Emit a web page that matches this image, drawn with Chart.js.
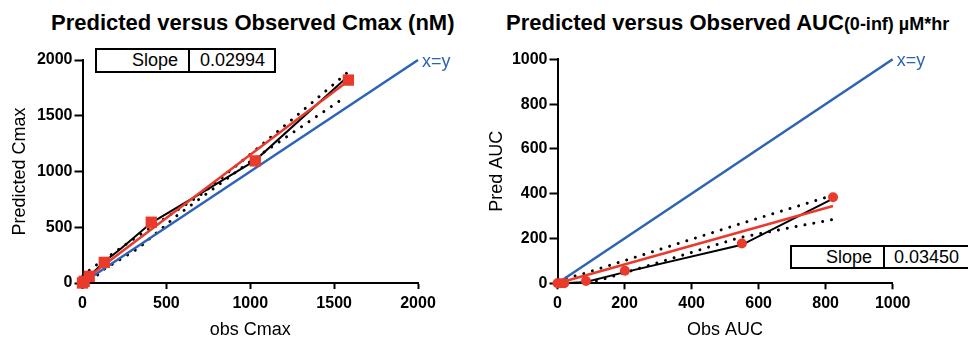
<!DOCTYPE html>
<html><head><meta charset="utf-8">
<script src="https://cdn.jsdelivr.net/npm/chart.js@4.4.1/dist/chart.umd.min.js"></script>
<style>
html,body{margin:0;padding:0;background:#fff;}
body{width:968px;height:339px;position:relative;overflow:hidden;font-family:"Liberation Sans",Arial,sans-serif;color:#000;}
.title{position:absolute;top:10px;font-weight:bold;font-size:22px;white-space:nowrap;line-height:26px;}
.title small{font-size:18px;}
canvas{position:absolute;top:0;}
.sbox{position:absolute;box-sizing:border-box;border:2px solid #000;display:flex;font-size:18px;background:#fff;}
.sbox div{box-sizing:border-box;height:100%;display:flex;align-items:center;}
.sbox .c1{border-right:2px solid #000;justify-content:flex-end;}
.sbox .c2{justify-content:flex-start;}
</style></head>
<body>
<div class="title" style="left:51px">Predicted versus Observed Cmax (nM)</div>
<div class="title" style="left:506px">Predicted versus Observed AUC<small>(0-inf) µM*hr</small></div>
<canvas id="c1" width="484" height="339" style="left:0"></canvas>
<canvas id="c2" width="484" height="339" style="left:484px"></canvas>
<div class="sbox" style="left:95px;top:48px;width:181px;height:25px">
  <div class="c1" style="width:93px;padding-right:10px">Slope</div><div class="c2" style="padding-left:10px">0.02994</div>
</div>
<div class="sbox" style="left:790px;top:245px;width:180px;height:24px">
  <div class="c1" style="width:93px;padding-right:11px">Slope</div><div class="c2" style="padding-left:9px">0.03450</div>
</div>
<script>
// ---- Left panel: Cmax (nM) ----
const cmaxObs   = [0, 10, 40, 130, 410, 1030, 1585];
const cmaxPred  = [0, 15, 60, 185, 545, 1095, 1820];
const cmaxLineX = [0, 10, 40, 130, 230, 410, 700, 1030, 1580];
const cmaxLineY = [0, 15, 60, 190, 310, 540, 800, 1100, 1850];
const cmaxFitX  = [0, 1585];
const cmaxFitY  = [15, 1815];
const cmaxUpX   = [0, 49, 300, 718, 1000, 1300, 1575];
const cmaxUpY   = [60, 126, 390, 805, 1155, 1530, 1882];
const cmaxLoX   = [50, 123, 335, 559, 1000, 1542];
const cmaxLoY   = [20, 117, 314, 600, 1090, 1643];
const cmaxIdent = [0, 2000];

// ---- Right panel: AUC(0-inf) µM*hr ----
const aucObs   = [0, 10, 20, 85, 201, 550, 822];
const aucPred  = [0, 0, 0, 10, 56, 178, 384];
const aucLineX = [0, 20, 85, 201, 550, 822];
const aucLineY = [0, 0, 6, 50, 172, 378];
const aucFitX  = [0, 822];
const aucFitY  = [0, 345];
const aucUpX   = [0, 65, 550, 822];
const aucUpY   = [15, 37, 268, 393];
const aucLoX   = [90, 145, 350, 543, 700, 822];
const aucLoY   = [0, 22, 115, 204, 250, 285];
const aucIdent = [0, 1000];

const identLabel = 'x=y';
const BLUE = '#2c63b7', RED = '#e93a2b', FONT = '"Liberation Sans", Arial, sans-serif';

const pts = (xs, ys) => xs.map((x, i) => ({x, y: ys[i]}));

const xyLabel = {
  id: 'xyLabel',
  afterDatasetsDraw(chart, args, opts) {
    const {ctx, scales: {x, y}} = chart;
    const px = x.getPixelForValue(opts.v), py = y.getPixelForValue(opts.v);
    ctx.save();
    ctx.font = '18px ' + FONT;
    ctx.fillStyle = BLUE;
    ctx.textBaseline = 'middle';
    ctx.fillText(identLabel, px + 4, py + 2);
    ctx.restore();
  }
};

function lineDs(data, color, width, dash) {
  return {data, showLine: true, pointRadius: 0, borderColor: color, borderWidth: width,
          borderDash: dash || [], borderCapStyle: dash ? 'round' : 'butt', fill: false, clip: false, tension: 0};
}

function makeChart(id, cfg) {
  const tickFont = {family: FONT, size: 16, weight: 'bold'};
  const axisCommon = (min, max, step, title, isY) => ({
    type: 'linear', min, max,
    ticks: {stepSize: step, font: tickFont, color: '#000', padding: isY ? 2 : 5, callback: v => String(v)},
    grid: {display: true, drawOnChartArea: false, drawTicks: true, tickLength: isY ? 8 : 6, tickWidth: 2, tickColor: '#000'},
    border: {display: true, color: '#000', width: 2},
    title: {display: true, text: title, color: '#000', font: {family: FONT, size: 18, lineHeight: 1},
            padding: isY ? {top: cfg.yTitlePad, bottom: 0} : {top: 0, bottom: 0}},
  });
  const xs = axisCommon(0, cfg.max, cfg.step, cfg.xTitle, false);
  xs.afterFit = s => { s.height = cfg.xH; };
  const ys = axisCommon(0, cfg.max, cfg.step, cfg.yTitle, true);
  ys.afterFit = s => { s.width = cfg.yW; };
  return new Chart(document.getElementById(id), {
    type: 'scatter',
    data: {datasets: [
      {data: cfg.points, pointStyle: cfg.pointStyle, pointRadius: cfg.pointRadius, pointBackgroundColor: RED,
       pointBorderColor: RED, pointBorderWidth: 0, showLine: false, clip: false},
      lineDs(cfg.fit, RED, 2.5),
      lineDs(cfg.line, '#000', 2),
      lineDs(cfg.ident, BLUE, 2.5),
      lineDs(cfg.up, '#000', 3, [0.01, 9]),
      lineDs(cfg.lo, '#000', 3, [0.01, 9]),
    ]},
    options: {
      responsive: false, animation: false, devicePixelRatio: 1,
      layout: {padding: {left: 0, right: cfg.padR, top: cfg.padT, bottom: 0}},
      plugins: {legend: {display: false}, tooltip: {enabled: false}, xyLabel: {v: cfg.max}},
      scales: {x: xs, y: ys}
    },
    plugins: [xyLabel]
  });
}

makeChart('c1', {
  max: 2000, step: 500, xTitle: 'obs Cmax', yTitle: 'Predicted Cmax',
  xH: 56, yW: 82.5, padR: 66, padT: 60, yTitlePad: 11,
  points: pts(cmaxObs, cmaxPred), pointStyle: 'rect', pointRadius: 8,
  fit: pts(cmaxFitX, cmaxFitY), line: pts(cmaxLineX, cmaxLineY),
  ident: pts(cmaxIdent, cmaxIdent), up: pts(cmaxUpX, cmaxUpY), lo: pts(cmaxLoX, cmaxLoY)
});
makeChart('c2', {
  max: 1000, step: 200, xTitle: 'Obs AUC', yTitle: 'Pred AUC',
  xH: 55.7, yW: 73.5, padR: 75.3, padT: 59.3, yTitlePad: 4,
  points: pts(aucObs, aucPred), pointStyle: 'circle', pointRadius: 5,
  fit: pts(aucFitX, aucFitY), line: pts(aucLineX, aucLineY),
  ident: pts(aucIdent, aucIdent), up: pts(aucUpX, aucUpY), lo: pts(aucLoX, aucLoY)
});
</script>
</body></html>
